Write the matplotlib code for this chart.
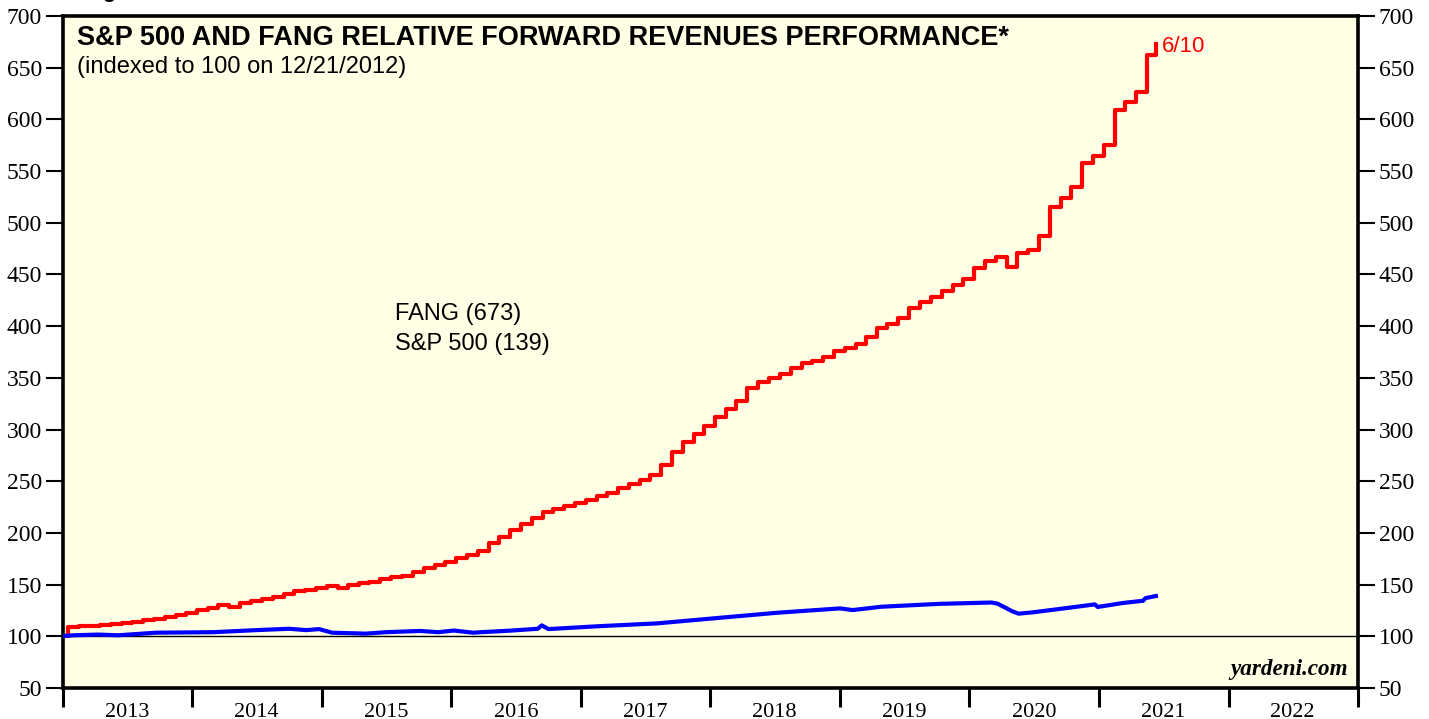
import numpy as np
import pandas as pd
import matplotlib
matplotlib.use("Agg")
import matplotlib.pyplot as plt

# FANG forward revenues, monthly levels (indexed, 12/21/2012 = 100)
fang_start = ("2012-12-21", 100)
fang_end = ("2021-06-10", 673)
fang_monthly = [
    109, 109.5, 110, 111, 112, 113, 114, 115.5, 117, 118.5, 121, 123,   # 2013
    125, 127, 130, 128, 132, 134, 136, 138, 141, 144, 145, 147,         # 2014
    149, 147, 150, 152, 153, 155, 157, 158, 162, 166, 169, 172,         # 2015
    176, 179, 183, 190, 196, 203, 209, 214, 220, 223, 226, 229,         # 2016
    232, 236, 239, 243, 247, 251, 256, 266, 278, 288, 296, 303,         # 2017
    312, 320, 328, 340, 346, 350, 354, 360, 364, 366, 370, 376,         # 2018
    379, 383, 390, 398, 402, 408, 418, 423, 428, 434, 440, 446,         # 2019
    456, 463, 467, 457, 471, 474, 487, 515, 524, 535, 558, 565,         # 2020
    575, 609, 617, 627, 662,                                            # 2021
]

# S&P 500 forward revenues
spx_dates = [
    "2012-12-21", "2013-01-30", "2013-04-10", "2013-06-05", "2013-09-20",
    "2014-03-01", "2014-07-01", "2014-10-01", "2014-11-18", "2014-12-24",
    "2015-01-30", "2015-05-05", "2015-07-01", "2015-10-05", "2015-11-25",
    "2016-01-08", "2016-03-03", "2016-03-25", "2016-06-15", "2016-09-01",
    "2016-09-12", "2016-10-01", "2017-02-15", "2017-08-03", "2017-12-28",
    "2018-07-08", "2019-01-01", "2019-02-06", "2019-04-27", "2019-10-08",
    "2020-03-03", "2020-03-20", "2020-05-01", "2020-05-19", "2020-06-28",
    "2020-09-12", "2020-11-28", "2020-12-20", "2020-12-28", "2021-03-08",
    "2021-05-05", "2021-05-12", "2021-06-10",
]
spx_values = [
    100, 101, 101.7, 101, 103.5,
    104, 106, 107.3, 106, 107,
    103.5, 102.6, 104, 105.2, 104,
    105.6, 103.5, 104, 105.5, 107.3,
    110.6, 107, 109.7, 112.5, 117,
    122.8, 127, 125.4, 128.6, 131.4,
    132.7, 131.7, 124.2, 121.9, 123.2,
    126.5, 129.9, 130.9, 128.4, 132.2,
    134.4, 137, 139,
]

years = list(range(2013, 2023))

months = pd.date_range("2013-01-01", periods=len(fang_monthly), freq="MS") + pd.Timedelta(days=14)
fang_x = [pd.Timestamp(fang_start[0])] + list(months) + [pd.Timestamp(fang_end[0])]
fang_y = [fang_start[1]] + fang_monthly + [fang_end[1]]
spx_x = pd.to_datetime(spx_dates)

serif = "Liberation Serif"
sans = "Liberation Sans"

fig = plt.figure(figsize=(14.29, 7.19), dpi=100)
ax = fig.add_axes([0.0441, 0.0431, 0.9062, 0.9346])
ax.set_facecolor("#FFFFE6")

ax.axhline(100, color="black", lw=1.0, zorder=1)
ax.plot(fang_x, fang_y, color="#FF0000", lw=3.0, drawstyle="steps-post",
        solid_joinstyle="round", zorder=3)
ax.plot(spx_x, spx_values, color="#0000FF", lw=3.0, solid_joinstyle="round", zorder=3)

ax.set_xlim(pd.Timestamp("2013-01-01"), pd.Timestamp("2023-01-01"))
ax.set_ylim(50, 700)

ax.set_yticks(np.arange(50, 701, 50))
ax.tick_params(axis="y", which="both", direction="out", length=12, width=1.5,
               left=True, right=True, labelleft=True, labelright=True,
               labelsize=17, pad=3)
for lab in ax.get_yticklabels():
    lab.set_fontfamily(serif)

ax.set_xticks([pd.Timestamp(f"{y}-01-01") for y in years + [2023]])
ax.set_xticklabels([])
ax.set_xticks([pd.Timestamp(f"{y}-07-01") for y in years], minor=True)
ax.set_xticklabels([str(y) for y in years], minor=True, fontfamily=serif, fontsize=16)
ax.tick_params(axis="x", which="major", direction="out", length=14, width=2.2)
ax.tick_params(axis="x", which="minor", length=0, pad=10.5)

for s in ax.spines.values():
    s.set_linewidth(2.6)

ax.text(0.011, 0.987, "S&P 500 AND FANG RELATIVE FORWARD REVENUES PERFORMANCE*",
        transform=ax.transAxes, fontfamily=sans, fontweight="bold", fontsize=19.5,
        va="top", ha="left")
ax.text(0.011, 0.940, "(indexed to 100 on 12/21/2012)",
        transform=ax.transAxes, fontfamily=sans, fontsize=17, va="top", ha="left")

ax.text(0.256, 0.5565, "FANG (673)", transform=ax.transAxes, fontfamily=sans,
        fontsize=17, va="center", ha="left")
ax.text(0.256, 0.512, "S&P 500 (139)", transform=ax.transAxes, fontfamily=sans,
        fontsize=17, va="center", ha="left")

ax.text(fang_x[-1] + pd.Timedelta(days=18), 671, "6/10", color="#FF0000",
        fontfamily=sans, fontsize=16, va="center", ha="left")

ax.text(0.992, 0.012, "yardeni.com", transform=ax.transAxes, fontfamily=serif,
        fontweight="bold", fontstyle="italic", fontsize=16.7, va="bottom", ha="right")

fig.text(0.058, 1.012, "Figure 3.", fontfamily=sans, fontweight="bold", fontsize=16,
         va="center", ha="left")

fig.savefig("out.png", dpi=100)
